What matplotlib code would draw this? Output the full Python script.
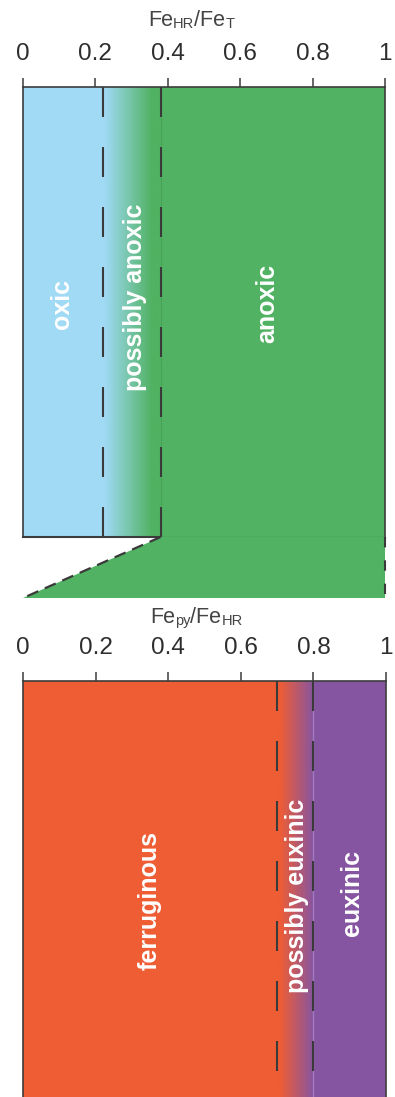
import matplotlib
matplotlib.use("Agg")
import matplotlib.pyplot as plt
import numpy as np
from matplotlib.colors import LinearSegmentedColormap

plt.rcParams['font.family'] = ['Liberation Sans', 'DejaVu Sans']

# ---- data ----
ticks = [0, 0.2, 0.4, 0.6, 0.8, 1.0]
tick_labels = ['0', '0.2', '0.4', '0.6', '0.8', '1']
fehr_thresholds = [0.22, 0.38]          # FeHR/FeT boundaries
fepy_thresholds = [0.7, 0.8]            # Fepy/FeHR boundaries
top_labels = ['oxic', 'possibly anoxic', 'anoxic']
top_label_x = [0.108, 0.309, 0.674]
bottom_labels = ['ferruginous', 'possibly euxinic', 'euxinic']
bottom_label_x = [0.35, 0.755, 0.906]

# ---- styles ----
BLUE = '#A0DAF5'
GREEN = '#50B262'
ORANGE = '#EF5D35'
PURPLE = '#8655A1'
SPINE = '#3c3c3c'
DASH = '#3a3a3a'
TXT = '#2e2e2e'

W, H = 395, 1097
fig = plt.figure(figsize=(W / 100, H / 100), dpi=100)

def frac(left, top, right, bottom):
    return [left / W, 1 - bottom / H, (right - left) / W, (bottom - top) / H]

def style_axis(ax):
    ax.set_xlim(0, 1)
    ax.set_ylim(0, 1)
    ax.xaxis.tick_top()
    ax.set_xticks(ticks)
    ax.set_xticklabels(tick_labels, fontsize=17.5, color=TXT)
    ax.tick_params(axis='x', direction='out', length=6.5, width=1.1,
                   color=SPINE, pad=9, top=True, bottom=False,
                   labeltop=True, labelbottom=False)
    ax.set_yticks([])
    for s in ax.spines.values():
        s.set_color(SPINE)
        s.set_linewidth(1.2)

def gradient(ax, x0, x1, c0, c1, hold0, hold1):
    cmap = LinearSegmentedColormap.from_list(
        'g', [(0, c0), (hold0, c0), (hold1, c1), (1, c1)])
    ax.imshow(np.linspace(0, 1, 256)[None, :], cmap=cmap, aspect='auto',
              extent=[x0, x1, 0, 1], interpolation='bilinear', zorder=1)

# ---- top panel ----
ax1 = fig.add_axes(frac(23, 87, 385, 537))
style_axis(ax1)
a, b = fehr_thresholds
ax1.axvspan(0, a, color=BLUE, lw=0, zorder=0)
ax1.axvspan(b, 1, color=GREEN, lw=0, zorder=0)
gradient(ax1, a, b, BLUE, GREEN, 0.03, 0.85)
ax1.set_xlim(0, 1); ax1.set_ylim(0, 1)
ax1.axvline(b, color='#47a058', lw=0.8, zorder=2)
for xv in fehr_thresholds:
    ax1.plot([xv, xv], [1, 0], color=DASH, lw=1.5, dashes=(14.4, 14.4), zorder=3)
ax1.spines['bottom'].set_visible(False)
ax1.plot([0, b], [0, 0], color=SPINE, lw=1.5, clip_on=False, zorder=4)
ax1.plot([b, 1], [0, 0], color='#3f7f4c', lw=0.9, clip_on=False, zorder=4)
for lab, x, y in zip(top_labels, top_label_x, [0.518, 0.532, 0.52]):
    ax1.text(x, y, lab, transform=ax1.get_xaxis_transform(), rotation=90,
             ha='center', va='center', fontsize=18, fontweight='bold',
             color='white', zorder=5)

# ---- connector ----
axc = fig.add_axes(frac(23, 537, 385, 598))
axc.set_xlim(0, 1); axc.set_ylim(0, 1)
axc.axis('off')
axc.fill([b, 1, 1, 0], [1, 1, 0, 0], color=GREEN, lw=0)
axc.plot([b, 0], [1, 0], color=DASH, lw=1.6, dashes=(5.4, 3.2), clip_on=False)
axc.plot([1, 1], [1, 0], color=DASH, lw=1.5, dashes=(5.0, 6.2), clip_on=False)

# ---- bottom panel ----
ax2 = fig.add_axes(frac(23, 681, 386, 1107))
style_axis(ax2)
c, d = fepy_thresholds
ax2.axvspan(0, c, color=ORANGE, lw=0, zorder=0)
ax2.axvspan(d, 1, color=PURPLE, lw=0, zorder=0)
gradient(ax2, c, d, ORANGE, PURPLE, 0.08, 1.0)
ax2.set_xlim(0, 1); ax2.set_ylim(0, 1)
ax2.axvline(d, color='#A57DC4', lw=0.9, zorder=2)
for xv in fepy_thresholds:
    ax2.plot([xv, xv], [1, 0], color=DASH, lw=1.5, dashes=(14.4, 14.4), zorder=3)
for lab, x, y in zip(bottom_labels, bottom_label_x, [0.484, 0.495, 0.502]):
    ax2.text(x, y, lab, transform=ax2.get_xaxis_transform(), rotation=90,
             ha='center', va='center', fontsize=18, fontweight='bold',
             color='white', zorder=5)

# ---- axis titles (composed with small-caps style parts) ----
def compose(x_px, base_px, parts):
    prev = fig.text(x_px / W, 1 - base_px / H, parts[0][0], fontsize=parts[0][1],
                    color='#444444', va='baseline', ha='left')
    for s, fs in parts[1:]:
        prev = ax1.annotate(s, xy=(1, 0), xycoords=prev, va='bottom', ha='left',
                            fontsize=fs, color='#444444', annotation_clip=False)

compose(148, 26, [('Fe', 15.5), ('HR', 10.5), ('/Fe', 15.5), ('T', 10.5)])
compose(150, 623, [('Fe', 15.5), ('py', 10.5), ('/Fe', 15.5), ('HR', 10.5)])

fig.savefig('out.png', dpi=100)
